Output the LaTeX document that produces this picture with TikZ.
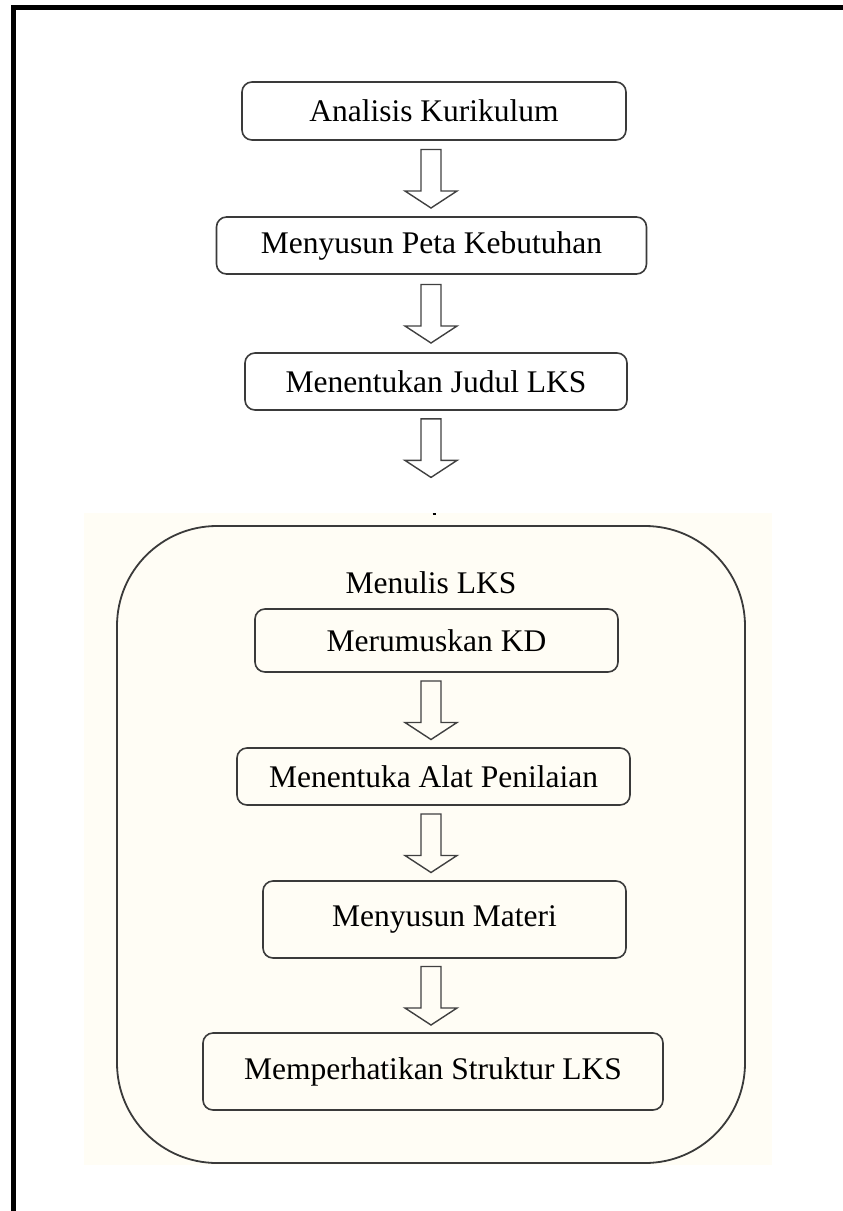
\documentclass[tikz,border=0pt]{standalone}
\usepackage{fontspec}
\setmainfont{Liberation Serif}
\usetikzlibrary{calc,positioning}
\definecolor{lksCream}{HTML}{FFFDF5}
\definecolor{lksLine}{HTML}{3A3A3A}
\tikzset{
  lksnode/.style={
    draw=lksLine, line width=1.6pt, rounded corners=10pt, inner sep=0pt,
    font=\fontsize{31.5}{36}\selectfont, align=center
  },
  lksgroup/.style={draw=lksLine, line width=1.8pt, rounded corners=100pt, inner sep=0pt},
  hollow/.style={draw=black!75, line width=1.4pt, line join=miter},
  frameline/.style={line width=5.5pt, black},
  tag/.style={font=\fontsize{31.5}{36}\selectfont, inner sep=0pt}
}
% hollow block arrow, centred between two nodes, on the spine
\newcommand{\flowarrow}[2]{
  \coordinate (m) at ($(#1.south)!.5!(#2.north)$);
  \draw[hollow] (spine |- m) ++(-10,-29) -- ++(0,41.5) -- ++(-16,0) -- ++(26,17)
    -- ++(26,-17) -- ++(-16,0) -- ++(0,-41.5) -- cycle;
}

\begin{document}
\begin{tikzpicture}[x=1pt, y=-1pt]
  \useasboundingbox (0,0) rectangle (843,1211);
  \fill[lksCream] (84,513) rectangle (772,1165);
  \draw[frameline] (13.5,1211) -- (13.5,7.5) -- (843,7.5);
  \coordinate (spine) at (431,0);

  % first steps
  \node[lksnode, minimum width=384pt, minimum height=58pt] (kurikulum) at (434,111) {Analisis Kurikulum};
  \node[lksnode, minimum width=430pt, minimum height=57pt] (peta) at (431.5,245.5) {Menyusun Peta Kebutuhan};
  \node[lksnode, minimum width=382pt, minimum height=57pt] (judul) at (436,381.5) {Menentukan Judul LKS};
  \coordinate (gate) at (431,485);
  \draw[line width=1.5pt] (432.5,514) -- (435.5,514);

  % writing the LKS
  \node[lksgroup, minimum width=628pt, minimum height=637pt] (menulis) at (431,844.5) {};
  \node[tag] (judulmenulis) at (431,583) {Menulis LKS};
  \node[lksnode, minimum width=363pt, minimum height=63pt] (kd) at (436.5,640.5) {Merumuskan KD};
  \node[lksnode, minimum width=393pt, minimum height=57pt] (alat) at (433.5,776.5) {Menentuka Alat Penilaian};
  \node[lksnode, minimum width=363pt, minimum height=77pt] (materi) at (444.5,919.5) {Menyusun Materi};
  \node[lksnode, minimum width=460pt, minimum height=77pt] (struktur) at (433,1071.5) {Memperhatikan Struktur LKS};

  \flowarrow{kurikulum}{peta}
  \flowarrow{peta}{judul}
  \flowarrow{judul}{gate}
  \flowarrow{kd}{alat}
  \flowarrow{alat}{materi}
  \flowarrow{materi}{struktur}
\end{tikzpicture}
\end{document}
